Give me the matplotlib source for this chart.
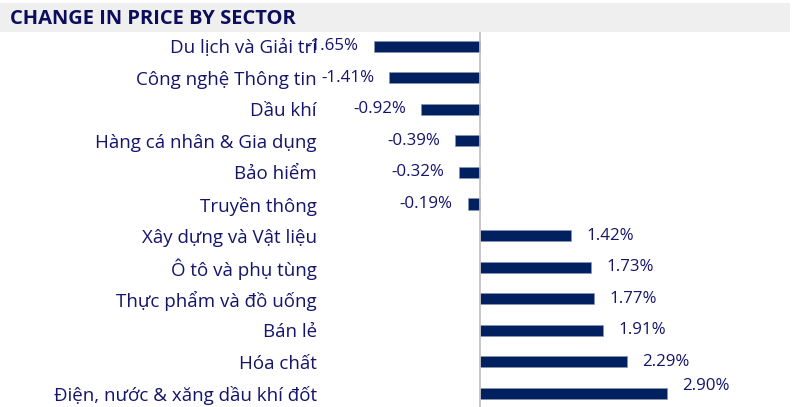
import matplotlib.pyplot as plt
from matplotlib.patches import Rectangle

sectors = [
    "Du lịch và Giải trí",
    "Công nghệ Thông tin",
    "Dầu khí",
    "Hàng cá nhân & Gia dụng",
    "Bảo hiểm",
    "Truyền thông",
    "Xây dựng và Vật liệu",
    "Ô tô và phụ tùng",
    "Thực phẩm và đồ uống",
    "Bán lẻ",
    "Hóa chất",
    "Điện, nước & xăng dầu khí đốt",
]
changes = [-1.65, -1.41, -0.92, -0.39, -0.32, -0.19, 1.42, 1.73, 1.77, 1.91, 2.29, 2.90]

title = "CHANGE IN PRICE BY SECTOR"

bar_color = "#002060"
text_color = "#14146b"

plt.rcParams['font.family'] = ['Open Sans', 'DejaVu Sans']

W, H = 798, 407
fig = plt.figure(figsize=(W / 100, H / 100), dpi=100)

# grey title band
fig.patches.append(Rectangle((0, 1 - 32 / H), 790 / W, 29 / H, transform=fig.transFigure,
                             facecolor="#efefef", edgecolor="none", zorder=0))
fig.text(10 / W, 1 - 18.5 / H, title, fontsize=14.5, fontweight="bold", color="#0d0d5e",
         va="center", ha="left")

ax = fig.add_axes([330 / W, 0, 460 / W, 1 - 31 / H])
ypos = list(range(len(sectors)))
ax.barh(ypos, changes, height=0.35, color=bar_color, edgecolor="#8a96b0", linewidth=0.5)
ax.set_xlim(-150 / 64.4, 310 / 64.4)
ax.set_ylim(11.43, -0.48)
ax.axvline(0, color="#bfbfbf", linewidth=1.2)

ax.set_yticks(ypos)
ax.set_yticklabels(sectors, fontsize=13.5, color=text_color)
ax.tick_params(axis="y", length=0, pad=9.5)
ax.set_xticks([])
for s in ax.spines.values():
    s.set_visible(False)

off = 15 / 64.4
for y, v in zip(ypos, changes):
    if v < 0:
        ax.text(v - off, y, f"{v:.2f}%", ha="right", va="center", fontsize=12.2, color=text_color)
    elif y == len(sectors) - 1:
        ax.text(v + off, y - 0.23, f"{v:.2f}%", ha="left", va="center", fontsize=12.2, color=text_color)
    else:
        ax.text(v + off, y, f"{v:.2f}%", ha="left", va="center", fontsize=12.2, color=text_color)

fig.savefig("out.png", dpi=100)
